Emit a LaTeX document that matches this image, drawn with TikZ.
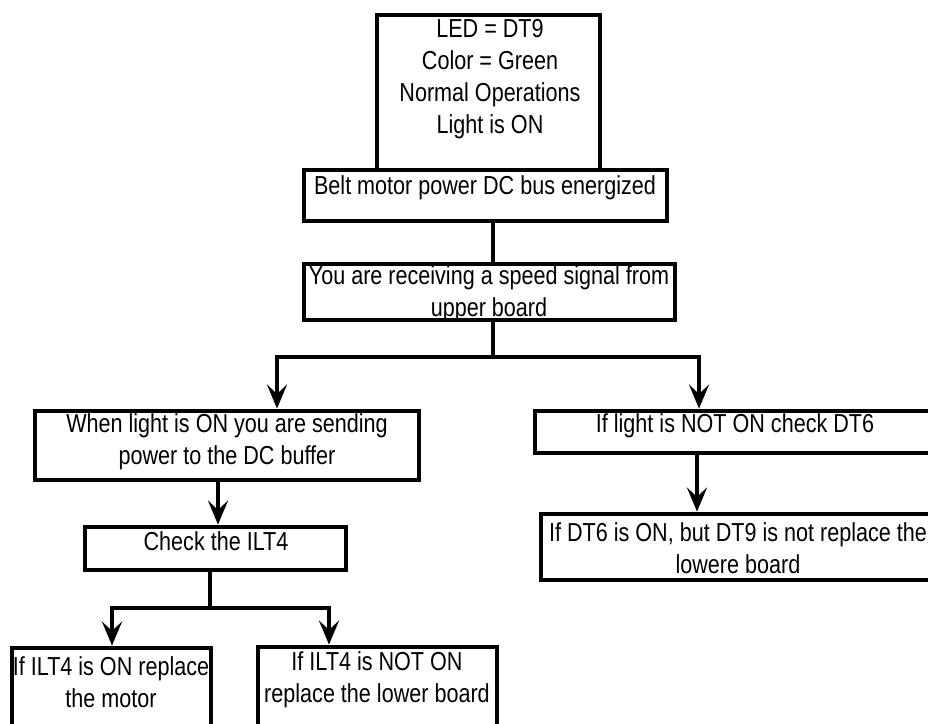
\documentclass[tikz,border=0pt]{standalone}
\usepackage{fontspec}
\setmainfont{Liberation Sans}[FakeStretch=0.83]
\usetikzlibrary{arrows.meta,fit}

\tikzset{
  box/.style={draw, line width=3.6pt, inner sep=0pt},
  txt/.style={align=center, inner sep=0pt, font=\fontsize{19.5}{24}\selectfont},
  link/.style={line width=3pt},
  arr/.style={link, -{Stealth[length=18pt,width=15pt,inset=7pt]}}
}

\begin{document}
\begin{tikzpicture}[x=0.75pt,y=-0.75pt]
    \fill[white] (0,0) rectangle (928,724);
    \useasboundingbox (0,0) rectangle (928,724);
    \clip (0,0) rectangle (928,724);

    % Boxes
    \node[box, fit={(377,15) (600,170)}] (led) {};
    \node[box, fit={(304,170) (667,221)}] (belt) {};
    \node[box, fit={(304,264) (675,320)}] (speed) {};
    \node[box, fit={(35,411) (419,480)}] (power) {};
    \node[box, fit={(535,411) (945,453)}] (checkdt) {};
    \node[box, fit={(85,527) (346,570)}] (check) {};
    \node[box, fit={(541,514) (945,580)}] (dtnine) {};
    \node[box, fit={(12,648) (211,745)}] (ilton) {};
    \node[box, fit={(258,647) (497,745)}] (iltoff) {};

    % Box texts
    \node[txt] (ledtxt) at (490,79) {LED = DT9\\Color = Green\\Normal Operations\\Light is ON};
    \node[txt] (belttxt) at (485,188) {Belt motor power DC bus energized};
    \node[txt] (speedtxt) at (489,294) {You are receiving a speed signal from\\upper board};
    \node[txt] (powertxt) at (227,442) {When light is ON you are sending\\power to the DC buffer};
    \node[txt] (checkdttxt) at (735,426) {If light is NOT ON check DT6};
    \node[txt] (checktxt) at (216,541) {Check the ILT4};
    \node[txt] (dtninetxt) at (738,548) {If DT6 is ON, but DT9 is not replace the\\lowere board};
    \node[txt] (iltontxt) at (111,682) {If ILT4 is ON replace\\the motor};
    \node[txt] (iltofftxt) at (377,680) {If ILT4 is NOT ON\\replace the lower board};

    % Branch points
    \coordinate (trunk) at (493,357);
    \coordinate (lbr) at (277,357);
    \coordinate (rbr) at (699,357);
    \coordinate (pw) at (218,0);
    \coordinate (rc) at (697,0);
    \coordinate (chk) at (210,608);
    \coordinate (cl) at (112,608);
    \coordinate (cr) at (329,608);

    % Connectors
    \draw[link] (belt.south -| trunk) -- (speed.north -| trunk);
    \draw[link] (speed.south -| trunk) -- (trunk);
    \draw[arr] (trunk) -- (lbr) -- (lbr |- power.north);
    \draw[arr] (trunk) -- (rbr) -- (rbr |- checkdt.north);
    \draw[arr] (pw |- power.south) -- (pw |- check.north);
    \draw[arr] (rc |- checkdt.south) -- (rc |- dtnine.north);
    \draw[link] (chk |- check.south) -- (chk);
    \draw[arr] (chk) -- (cl) -- (cl |- ilton.north);
    \draw[arr] (chk) -- (cr) -- (cr |- iltoff.north);

\end{tikzpicture}
\end{document}
